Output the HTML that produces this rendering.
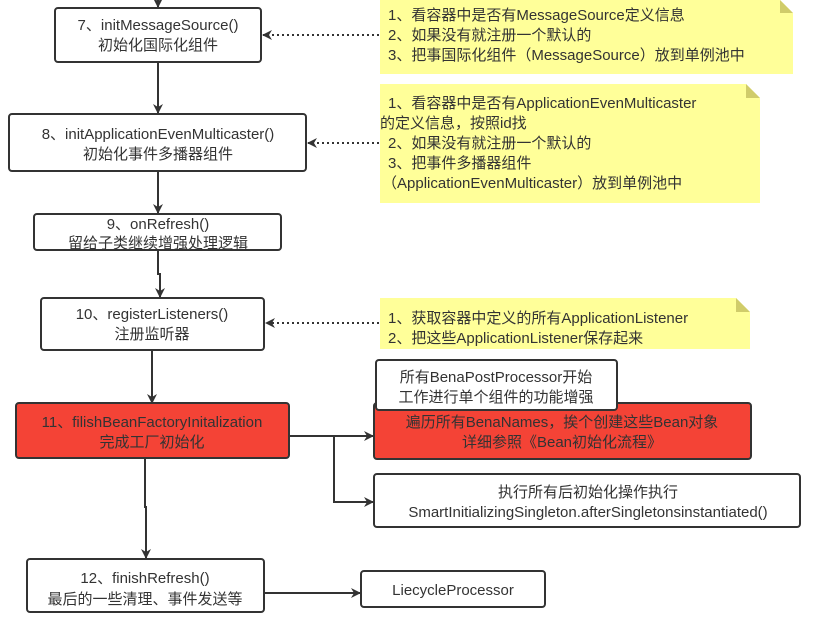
<!DOCTYPE html>
<html><head><meta charset="utf-8"><style>
html,body{margin:0;padding:0;background:#fff;}
svg{display:block;}
text{font-family:"Liberation Sans","Noto Sans CJK SC",sans-serif;font-size:15px;fill:#333;}
</style></head><body>
<svg width="819" height="619" viewBox="0 0 819 619" xmlns="http://www.w3.org/2000/svg">
<defs>
<marker id="a" markerWidth="10" markerHeight="10" refX="9" refY="5" orient="auto" markerUnits="userSpaceOnUse"><path d="M0,0 L10,5 L0,10 L3,5 Z" fill="#333"/></marker>
</defs>
<g fill="#ffff99">
<path d="M380,0 H780 L793,13 V74 H380 Z"/>
<path d="M380,84 H746 L760,98 V203 H380 Z"/>
<path d="M380,298 H736 L750,312 V349 H380 Z"/>
</g>
<g fill="#d0cc6a">
<path d="M780,0 L793,13 H780 Z"/>
<path d="M746,84 L760,98 H746 Z"/>
<path d="M736,298 L750,312 H736 Z"/>
</g>
<g stroke="#333" stroke-width="2" fill="none">
<line x1="158" y1="0" x2="158" y2="7" marker-end="url(#a)"/>
<line x1="158" y1="62" x2="158" y2="113" marker-end="url(#a)"/>
<line x1="158" y1="171" x2="158" y2="213" marker-end="url(#a)"/>
<polyline points="158,250 158,274 160,274 160,297" marker-end="url(#a)"/>
<line x1="152" y1="350" x2="152" y2="403" marker-end="url(#a)"/>
<polyline points="145,458 145,507 146,507 146,558" marker-end="url(#a)"/>
<line x1="290" y1="436" x2="373" y2="436" marker-end="url(#a)"/>
<polyline points="334,436 334,502 373,502" marker-end="url(#a)"/>
<line x1="264" y1="593" x2="360" y2="593" marker-end="url(#a)"/>
<g stroke-dasharray="2,3">
<line x1="379" y1="35" x2="263" y2="35" marker-end="url(#a)"/>
<line x1="379" y1="143" x2="308" y2="143" marker-end="url(#a)"/>
<line x1="379" y1="323" x2="266" y2="323" marker-end="url(#a)"/>
</g>
</g>
<g stroke="#333" stroke-width="2">
<rect x="55" y="8" width="206" height="54" rx="3" fill="#fff"/>
<rect x="9" y="114" width="297" height="57" rx="3" fill="#fff"/>
<rect x="34" y="214" width="247" height="36" rx="3" fill="#fff"/>
<rect x="41" y="298" width="223" height="52" rx="3" fill="#fff"/>
<rect x="16" y="403" width="273" height="55" rx="3" fill="#f44336"/>
<rect x="374" y="403" width="377" height="56" rx="3" fill="#f44336"/>
<rect x="376" y="360" width="241" height="50" rx="3" fill="#fff"/>
<rect x="374" y="474" width="426" height="53" rx="3" fill="#fff"/>
<rect x="27" y="559" width="237" height="53" rx="3" fill="#fff"/>
<rect x="361" y="571" width="184" height="36" rx="3" fill="#fff"/>
</g>
<g text-anchor="middle">
<text x="158" y="30">7、initMessageSource()</text>
<text x="158" y="50">初始化国际化组件</text>
<text x="158" y="139">8、initApplicationEvenMulticaster()</text>
<text x="158" y="159">初始化事件多播器组件</text>
<text x="158" y="229">9、onRefresh()</text>
<text x="158" y="248">留给子类继续增强处理逻辑</text>
<text x="152" y="319">10、registerListeners()</text>
<text x="152" y="339">注册监听器</text>
<text x="152" y="427">11、filishBeanFactoryInitalization</text>
<text x="152" y="447">完成工厂初始化</text>
<text x="496" y="382">所有BenaPostProcessor开始</text>
<text x="496" y="402">工作进行单个组件的功能增强</text>
<text x="562" y="427">遍历所有BenaNames，挨个创建这些Bean对象</text>
<text x="562" y="447">详细参照《Bean初始化流程》</text>
<text x="588" y="497">执行所有后初始化操作执行</text>
<text x="588" y="517">SmartInitializingSingleton.afterSingletonsinstantiated()</text>
<text x="145" y="583">12、finishRefresh()</text>
<text x="145" y="604">最后的一些清理、事件发送等</text>
<text x="453" y="595">LiecycleProcessor</text>
</g>
<g>
<text x="388" y="20">1、看容器中是否有MessageSource定义信息</text>
<text x="388" y="40">2、如果没有就注册一个默认的</text>
<text x="388" y="60">3、把事国际化组件（MessageSource）放到单例池中</text>
<text x="388" y="108">1、看容器中是否有ApplicationEvenMulticaster</text>
<text x="380" y="128">的定义信息，按照id找</text>
<text x="388" y="148">2、如果没有就注册一个默认的</text>
<text x="388" y="168">3、把事件多播器组件</text>
<text x="382" y="188">（ApplicationEvenMulticaster）放到单例池中</text>
<text x="388" y="323">1、获取容器中定义的所有ApplicationListener</text>
<text x="388" y="343">2、把这些ApplicationListener保存起来</text>
</g>
</svg>
</body></html>
